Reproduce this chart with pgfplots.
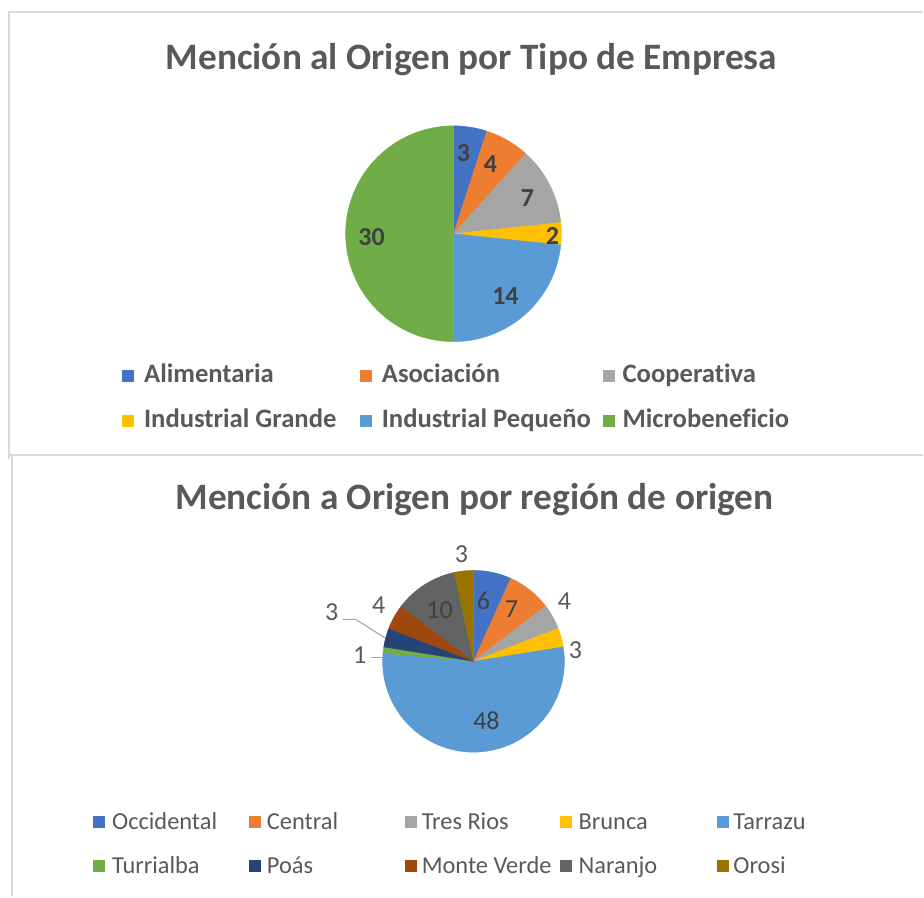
\documentclass[border=0pt]{standalone}
\usepackage{pgfplots}
\pgfplotsset{compat=1.18}
\usepackage{pgfplotstable}
\usepackage{fontspec}
\setmainfont{Carlito}[Ligatures=NoCommon]

\definecolor{cA}{HTML}{4472C4}
\definecolor{cB}{HTML}{ED7D31}
\definecolor{cC}{HTML}{A5A5A5}
\definecolor{cD}{HTML}{FFC000}
\definecolor{cE}{HTML}{5B9BD5}
\definecolor{cF}{HTML}{70AD47}
\definecolor{cG}{HTML}{264478}
\definecolor{cH}{HTML}{9E480E}
\definecolor{cI}{HTML}{636363}
\definecolor{cJ}{HTML}{997300}
\definecolor{txt}{HTML}{595959}
\definecolor{lbl}{HTML}{404040}
\definecolor{bord}{HTML}{D9D9D9}

% name, value, colour, label x/y, label colour, legend marker x, legend text x, legend row y
\pgfplotstableread[col sep=comma]{
name,value,col,lx,ly,lc,mx,tx,my
Alimentaria,3,cA,464,153,lbl,122,144,376
Asociación,4,cB,491,164,lbl,360,382,376
Cooperativa,7,cC,528,198,lbl,604,623,376
Industrial Grande,2,cD,553,236,lbl,122,144,421
Industrial Pequeño,14,cE,506,296,lbl,360,382,421
Microbeneficio,30,cF,372,237,lbl,604,623,421
}\topdata

\pgfplotstableread[col sep=comma]{
name,value,col,lx,ly,lc,mx,tx,my
Occidental,6,cA,484,601,lbl,93,112,823
Central,7,cB,512,610,lbl,249,267,823
Tres Rios,4,cC,565,602,txt,405,422,823
Brunca,3,cD,576,651,txt,561,579,823
Tarrazu,48,cE,487,722,lbl,718,734,823
Turrialba,1,cF,360,656,txt,93,112,867
Poás,3,cG,332,613,txt,249,267,867
Monte Verde,4,cH,379,606,txt,405,422,867
Naranjo,10,cI,440,611,lbl,561,579,867
Orosi,3,cJ,462,555,txt,718,734,867
}\botdata

\newcommand\toplblfont{\bfseries\fontsize{19.5}{22}\selectfont}
\newcommand\botlblfont{\fontsize{19.5}{22}\selectfont}
\newcommand\toplegfont{\bfseries\fontsize{20}{24}\selectfont}
\newcommand\botlegfont{\fontsize{18.3}{22}\selectfont}

% #1 table, #2 cx, #3 cy, #4 radius (pt)
\newcommand\drawpie[4]{%
  \pgfplotstablegetrowsof{#1}%
  \pgfmathtruncatemacro\nrows{\pgfplotsretval-1}%
  \gdef\pietotal{0}%
  \foreach \i in {0,...,\nrows}{%
    \pgfplotstablegetelem{\i}{value}\of{#1}%
    \pgfmathsetmacro\tmp{\pietotal+\pgfplotsretval}%
    \xdef\pietotal{\tmp}}%
  \gdef\cum{0}%
  \foreach \i in {0,...,\nrows}{%
    \pgfplotstablegetelem{\i}{value}\of{#1}\let\sliceval\pgfplotsretval
    \pgfplotstablegetelem{\i}{col}\of{#1}\let\slicecol\pgfplotsretval
    \pgfmathsetmacro\aone{90-(\cum/\pietotal)*360}%
    \pgfmathsetmacro\atwo{90-((\cum+\sliceval)/\pietotal)*360}%
    \edef\cmd{\noexpand\fill[\slicecol, draw=\slicecol, line width=0.3pt, line join=round]
      (axis cs:#2,#3) -- ++(\aone:#4pt) arc[start angle=\aone, end angle=\atwo, radius=#4pt] -- cycle;}%
    \cmd
    \pgfmathsetmacro\tmp{\cum+\sliceval}\xdef\cum{\tmp}%
  }%
}

% #1 table, #2 label font, #3 legend font
\newcommand\pietexts[3]{%
  \pgfplotstablegetrowsof{#1}%
  \pgfmathtruncatemacro\nrows{\pgfplotsretval-1}%
  \foreach \i in {0,...,\nrows}{%
    \pgfplotstablegetelem{\i}{value}\of{#1}\let\sliceval\pgfplotsretval
    \pgfplotstablegetelem{\i}{name}\of{#1}\let\slicename\pgfplotsretval
    \pgfplotstablegetelem{\i}{col}\of{#1}\let\slicecol\pgfplotsretval
    \pgfplotstablegetelem{\i}{lx}\of{#1}\let\lx\pgfplotsretval
    \pgfplotstablegetelem{\i}{ly}\of{#1}\let\ly\pgfplotsretval
    \pgfplotstablegetelem{\i}{lc}\of{#1}\let\lc\pgfplotsretval
    \pgfplotstablegetelem{\i}{mx}\of{#1}\let\mx\pgfplotsretval
    \pgfplotstablegetelem{\i}{tx}\of{#1}\let\tx\pgfplotsretval
    \pgfplotstablegetelem{\i}{my}\of{#1}\let\my\pgfplotsretval
    \pgfmathsetmacro\mxb{\mx+12}%
    \pgfmathsetmacro\mya{\my-6}%
    \pgfmathsetmacro\myb{\my+6}%
    \pgfmathsetmacro\myt{\my+7}%
    \edef\cmd{\noexpand\node[text=\lc, font=\noexpand#2, inner sep=0pt] at (axis cs:\lx,\ly) {\sliceval};
      \noexpand\fill[\slicecol] (axis cs:\mx,\mya) rectangle (axis cs:\mxb,\myb);
      \noexpand\node[text=txt, font=\noexpand#3, anchor=base west, inner sep=0pt] at (axis cs:\tx,\myt) {\slicename};}%
    \cmd
  }%
}

\begin{document}
\begin{tikzpicture}
\begin{axis}[scale only axis, width=693pt, height=672.75pt,
  xmin=0, xmax=924, ymin=0, ymax=897, y dir=reverse,
  hide axis, clip=false]
  \path (axis cs:0,0) rectangle (axis cs:924,897);
  % panel borders
  \draw[bord, line width=1.5pt] (axis cs:924,12) -- (axis cs:9,12) -- (axis cs:9,459);
  \draw[bord, line width=1.5pt] (axis cs:9,455) -- (axis cs:924,455);
  \draw[bord, line width=1.5pt] (axis cs:12,455) -- (axis cs:12,897);
  % titles
  \node[text=txt, font=\bfseries\fontsize{28}{32}\selectfont] at (axis cs:472,60) {Mención al Origen por Tipo de Empresa};
  \node[text=txt, font=\bfseries\fontsize{28}{32}\selectfont] at (axis cs:475,500) {Mención a Origen por región de origen};
  % pies
  \drawpie{\topdata}{454}{234}{81}
  \drawpie{\botdata}{474}{662}{68.25}
  % leader lines
  \draw[gray!70, line width=0.8pt] (axis cs:343,620) -- (axis cs:356,620) -- (axis cs:386,639);
  \draw[gray!70, line width=0.8pt] (axis cs:371,658) -- (axis cs:382,658);
  \pietexts{\topdata}{\toplblfont}{\toplegfont}
  \pietexts{\botdata}{\botlblfont}{\botlegfont}
\end{axis}
\end{tikzpicture}
\end{document}
